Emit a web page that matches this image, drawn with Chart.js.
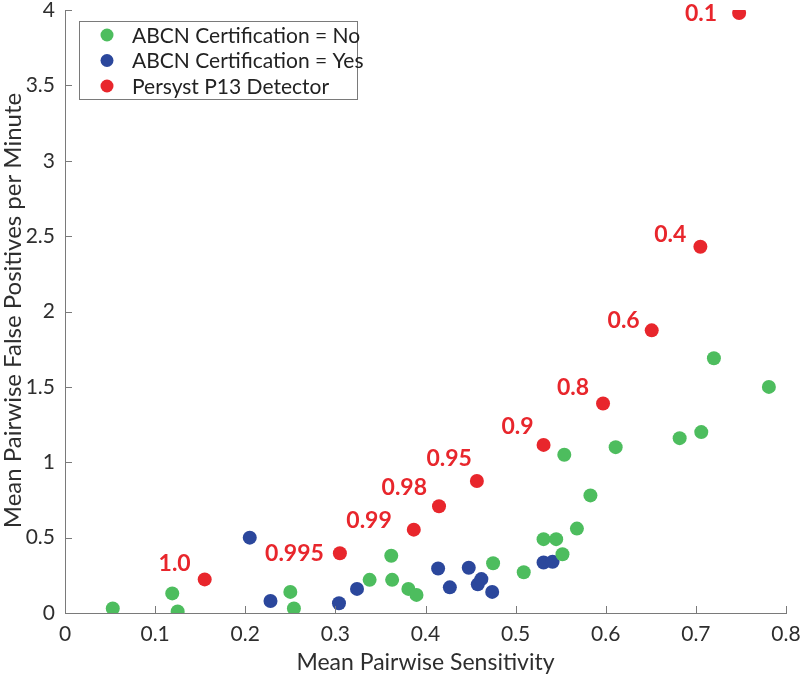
<!DOCTYPE html>
<html>
<head>
<meta charset="utf-8">
<script src="https://cdn.jsdelivr.net/npm/chart.js@4.4.0/dist/chart.umd.min.js"></script>
<style>
  html, body { margin: 0; padding: 0; background: #fff; }
</style>
</head>
<body>
<canvas id="chart" width="800" height="676"></canvas>
<script>
// ABCN Certification = No
const certNoX = [0.053, 0.119, 0.125, 0.250, 0.254, 0.338, 0.362, 0.363, 0.381, 0.390, 0.475, 0.509,
                 0.531, 0.545, 0.552, 0.554, 0.568, 0.583, 0.611, 0.682, 0.706, 0.720, 0.781];
const certNoY = [0.03, 0.13, 0.01, 0.14, 0.03, 0.22, 0.38, 0.22, 0.16, 0.12, 0.33, 0.27,
                 0.49, 0.49, 0.39, 1.05, 0.56, 0.78, 1.10, 1.16, 1.20, 1.69, 1.50];

// ABCN Certification = Yes
const certYesX = [0.205, 0.228, 0.304, 0.324, 0.414, 0.427, 0.448, 0.458, 0.462, 0.474, 0.531, 0.541];
const certYesY = [0.50, 0.08, 0.065, 0.16, 0.295, 0.17, 0.30, 0.19, 0.225, 0.14, 0.335, 0.34];

// Persyst P13 detector, one point per threshold
const detectorX = [0.748, 0.705, 0.651, 0.597, 0.531, 0.457, 0.415, 0.387, 0.305, 0.155];
const detectorY = [3.98, 2.43, 1.875, 1.39, 1.115, 0.876, 0.708, 0.553, 0.396, 0.223];
const detectorLabels = ['0.1', '0.4', '0.6', '0.8', '0.9', '0.95', '0.98', '0.99', '0.995', '1.0'];

const xTicks = [0, 0.1, 0.2, 0.3, 0.4, 0.5, 0.6, 0.7, 0.8];
const yTicks = [0, 0.5, 1, 1.5, 2, 2.5, 3, 3.5, 4];

// label placement next to each red point: [dx of right edge, dy of middle], px
const labelOffsets = [[-22, 1], [-14, -12], [-12, -10], [-14, -16], [-10, -18],
                      [-5, -22], [-12, -19], [-22, -9], [-16, 0], [-14, -16]];

const GREEN = '#4dbd5e';
const BLUE = '#2b479c';
const RED = '#e8262c';
const AXIS = '#7a7a7a';
const TEXT = '#2e2e2e';
const FONT = 'Lato, "Open Sans", sans-serif';

const toPoints = (xs, ys) => xs.map((x, i) => ({ x: x, y: ys[i] }));

const extrasPlugin = {
    id: 'extras',
    afterDatasetsDraw(chart) {
        const ctx = chart.ctx;
        const meta = chart.getDatasetMeta(2);
        ctx.save();
        ctx.fillStyle = RED;
        ctx.font = 'bold 23px ' + FONT;
        ctx.textAlign = 'right';
        ctx.textBaseline = 'middle';
        meta.data.forEach((pt, i) => {
            const off = labelOffsets[i];
            ctx.fillText(detectorLabels[i], pt.x + off[0], pt.y + off[1]);
        });
        ctx.restore();
    },
    afterDraw(chart) {
        const ctx = chart.ctx;
        const xs = chart.scales.x;
        const ys = chart.scales.y;
        const area = chart.chartArea;
        ctx.save();
        // inward tick marks
        ctx.strokeStyle = AXIS;
        ctx.lineWidth = 1;
        ctx.beginPath();
        xTicks.forEach(v => {
            const px = Math.round(xs.getPixelForValue(v)) + 0.5;
            ctx.moveTo(px, area.bottom);
            ctx.lineTo(px, area.bottom - 7);
        });
        yTicks.forEach(v => {
            const py = Math.round(ys.getPixelForValue(v)) + 0.5;
            ctx.moveTo(area.left, py);
            ctx.lineTo(area.left + 7, py);
        });
        ctx.stroke();

        // y axis title
        ctx.save();
        ctx.translate(21, (area.top + area.bottom) / 2 - 1);
        ctx.rotate(-Math.PI / 2);
        ctx.fillStyle = TEXT;
        ctx.font = '24px ' + FONT;
        ctx.textAlign = 'center';
        ctx.textBaseline = 'alphabetic';
        ctx.fillText('Mean Pairwise False Positives per Minute', 0, 0);
        ctx.restore();

        // legend box
        const lx = 79.5, ly = 21.5, lw = 278, lh = 78;
        ctx.fillStyle = '#fff';
        ctx.fillRect(lx, ly, lw, lh);
        ctx.strokeStyle = '#7a7a7a';
        ctx.strokeRect(lx, ly, lw, lh);
        ctx.font = '21px ' + FONT;
        ctx.textAlign = 'left';
        ctx.textBaseline = 'middle';
        chart.data.datasets.forEach((ds, i) => {
            const cy = 35 + i * 25.5;
            ctx.fillStyle = ds.backgroundColor;
            ctx.beginPath();
            ctx.arc(107, cy, 6.5, 0, Math.PI * 2);
            ctx.fill();
            ctx.fillStyle = '#222';
            ctx.fillText(ds.label, 132, cy + 1);
        });
        ctx.restore();
    }
};

new Chart(document.getElementById('chart').getContext('2d'), {
    type: 'scatter',
    data: {
        datasets: [
            { label: 'ABCN Certification = No', data: toPoints(certNoX, certNoY), backgroundColor: GREEN },
            { label: 'ABCN Certification = Yes', data: toPoints(certYesX, certYesY), backgroundColor: BLUE },
            { label: 'Persyst P13 Detector', data: toPoints(detectorX, detectorY), backgroundColor: RED }
        ]
    },
    options: {
        responsive: false,
        animation: false,
        layout: { padding: { top: 10, right: 14, left: 0, bottom: 0 } },
        elements: { point: { radius: 7, borderWidth: 0, hoverRadius: 7 } },
        plugins: {
            legend: { display: false },
            tooltip: { enabled: false }
        },
        scales: {
            x: {
                type: 'linear',
                min: 0,
                max: 0.8,
                afterBuildTicks: (scale) => { scale.ticks = xTicks.map(v => ({ value: v })); },
                afterFit: (scale) => {
                    scale.height = 63;
                    scale.paddingLeft = 0;
                    scale.paddingRight = 0;
                },
                grid: { drawOnChartArea: false, drawTicks: false },
                border: { display: true, color: AXIS, width: 1 },
                ticks: { color: TEXT, font: { family: FONT, size: 21 }, padding: 9, callback: v => String(v) },
                title: {
                    display: true,
                    text: 'Mean Pairwise Sensitivity',
                    color: TEXT,
                    font: { family: FONT, size: 23 },
                    padding: { top: 0, bottom: 0 }
                }
            },
            y: {
                type: 'linear',
                min: 0,
                max: 4,
                afterBuildTicks: (scale) => { scale.ticks = yTicks.map(v => ({ value: v })); },
                afterFit: (scale) => {
                    scale.width = 65;
                    scale.paddingTop = 0;
                    scale.paddingBottom = 0;
                },
                grid: { drawOnChartArea: false, drawTicks: false },
                border: { display: true, color: AXIS, width: 1 },
                ticks: { color: TEXT, font: { family: FONT, size: 21 }, padding: 10, callback: v => String(v) },
                title: { display: false }
            }
        }
    },
    plugins: [extrasPlugin]
});
</script>
</body>
</html>
